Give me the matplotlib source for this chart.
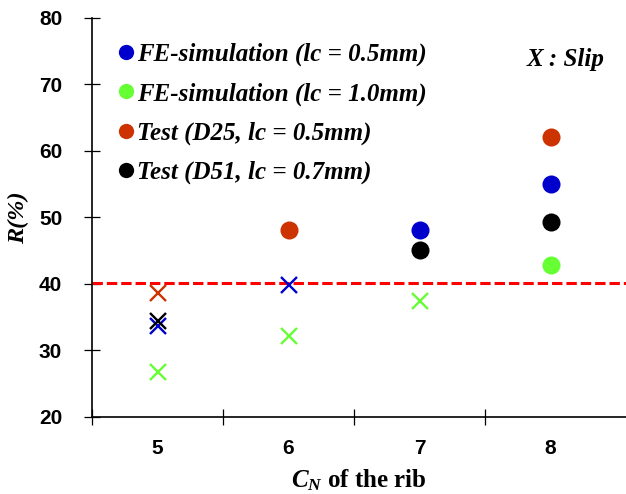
import numpy as np
import matplotlib
matplotlib.use("Agg")
import matplotlib.pyplot as plt
from matplotlib.lines import Line2D

plt.rcParams['mathtext.fontset'] = 'custom'
plt.rcParams['mathtext.it'] = 'Liberation Serif:italic:bold'
plt.rcParams['mathtext.rm'] = 'Liberation Serif:bold'

# categories (C_N of the rib)
categories = [5, 6, 7, 8]

# circle = no slip, cross = slip ; nan = no point
fe05_circle = [np.nan, np.nan, 48.1, 55.1]
fe05_slip = [33.7, 39.9, np.nan, np.nan]
fe10_circle = [np.nan, np.nan, np.nan, 42.9]
fe10_slip = [26.7, 32.1, 37.5, np.nan]
d25_circle = [np.nan, 48.1, np.nan, 62.1]
d25_slip = [38.6, np.nan, np.nan, np.nan]
d51_circle = [np.nan, np.nan, 45.1, 49.3]
d51_slip = [34.4, np.nan, np.nan, np.nan]

threshold = 40.2

series = [
    ("FE-simulation (lc = 0.5mm)", "#0000CC", fe05_circle, fe05_slip),
    ("FE-simulation (lc = 1.0mm)", "#66FF33", fe10_circle, fe10_slip),
    ("Test (D25, lc = 0.5mm)", "#CC3300", d25_circle, d25_slip),
    ("Test (D51, lc = 0.7mm)", "#000000", d51_circle, d51_slip),
]

fig = plt.figure(figsize=(6.26, 4.94), dpi=100)
ax = fig.add_axes([0.147, 0.156, 0.853, 0.8076])

x = np.array(categories)
handles = []
for label, color, circ, slip in series:
    ax.plot(x, circ, 'o', color=color, markersize=13, markeredgewidth=0, zorder=3)
    ax.plot(x, slip, 'x', color=color, markersize=12, markeredgewidth=1.7, zorder=3)
    handles.append(Line2D([], [], marker='o', linestyle='none', color=color,
                          markersize=11, markeredgewidth=0, label=label))

ax.axhline(threshold, color='#FF0000', linewidth=2.2, dashes=(3.4, 1.3), zorder=2)

ax.set_xlim(4.5, 8.576)
ax.set_ylim(20, 80)

# ticks between categories, labels at category centres
ax.set_xticks([4.5, 5.5, 6.5, 7.5])
ax.set_xticklabels([])
ax.set_xticks(categories, minor=True)
ax.set_xticklabels([str(c) for c in categories], minor=True,
                   fontsize=15, fontweight='bold', family='Liberation Sans')
ax.tick_params(axis='x', which='major', direction='inout', length=11, width=0.9)
ax.tick_params(axis='x', which='minor', length=0, pad=16)

ax.set_yticks(np.arange(20, 81, 10))
ax.set_yticklabels([str(v) for v in range(20, 81, 10)],
                   fontsize=15, fontweight='bold', family='Liberation Sans')
ax.tick_params(axis='y', direction='inout', length=11, width=0.9, pad=16)

for s in ['top', 'right']:
    ax.spines[s].set_visible(False)
for s in ['left', 'bottom']:
    ax.spines[s].set_linewidth(1.2)

ax.set_xlabel(r'$C_N$ of the rib', fontsize=18, fontweight='bold',
              family='Liberation Serif', labelpad=7)
ax.set_ylabel('R(%)', fontsize=17.5, fontweight='bold', fontstyle='italic',
              family='Liberation Serif', labelpad=7)

leg = ax.legend(handles=handles, loc='upper left', bbox_to_anchor=(0.017, 0.982),
                frameon=False, handlelength=0.6, handletextpad=0.15,
                labelspacing=0.64, borderaxespad=0.3,
                prop={'family': 'Liberation Serif', 'weight': 'bold',
                      'style': 'italic', 'size': 18})

ax.text(0.887, 0.895, 'X : Slip', transform=ax.transAxes, ha='center', va='center',
        fontsize=18, fontweight='bold', fontstyle='italic', family='Liberation Serif')

fig.savefig('out.png', dpi=100)
